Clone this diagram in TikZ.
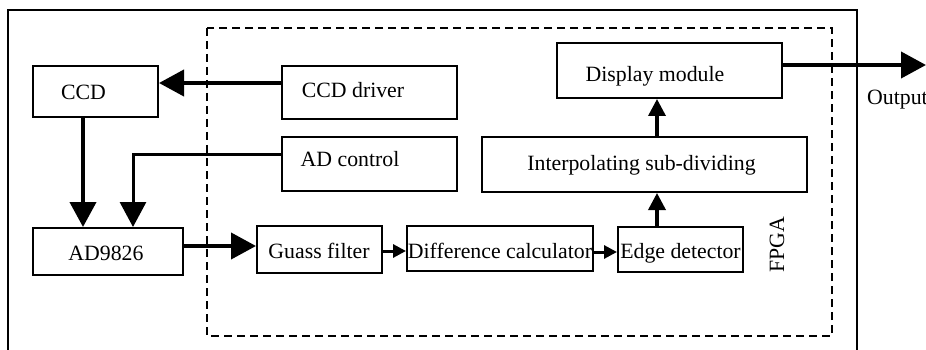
\documentclass[tikz,border=0pt]{standalone}
\usepackage{fontspec}
\setmainfont{Liberation Serif}
\usetikzlibrary{arrows.meta}
\begin{document}
\begin{tikzpicture}[x=1pt,y=-1pt,
  every node/.style={font=\fontsize{21.8}{25}\selectfont},
  box/.style={draw,line width=2pt,inner sep=0pt,fill=white},
  lbl/.style={anchor=base,inner sep=0pt},
  big/.style={line width=4pt,-{Triangle[length=25pt,width=26pt]}},
  med/.style={line width=3.5pt,-{Triangle[length=17pt,width=17pt]}},
  small/.style={line width=3pt,-{Triangle[length=13pt,width=13pt]}},
  frame/.style={line width=2pt},
  fpga/.style={line width=2.2pt,dash pattern=on 8pt off 5pt}]
\useasboundingbox (0,0) rectangle (926,350);
% outer frame and FPGA region
\draw[frame] (7.5,352) -- (7.5,10) -- (857,10) -- (857,352);
\draw[fpga] (207,28) rectangle (832,336);
% boxes
\node[box,minimum width=125pt,minimum height=51pt] (ccd) at (95.5,91.5) {};
\node[box,minimum width=175pt,minimum height=53pt] (drv) at (369.5,92.5) {};
\node[box,minimum width=175pt,minimum height=54pt] (adc) at (369.5,164) {};
\node[box,minimum width=150pt,minimum height=47pt] (ad) at (108,251.5) {};
\node[box,minimum width=125pt,minimum height=47pt] (gauss) at (319.5,249.5) {};
\node[box,minimum width=186pt,minimum height=45pt] (diff) at (500,248.5) {};
\node[box,minimum width=125pt,minimum height=45pt] (edge) at (680.5,249.5) {};
\node[box,minimum width=325pt,minimum height=55pt] (interp) at (644.5,164.5) {};
\node[box,minimum width=225pt,minimum height=55pt] (disp) at (669.5,70.5) {};
% labels
\node[lbl] (tccd) at (83.5,100) {CCD};
\node[lbl] (tdrv) at (353,98) {CCD driver};
\node[lbl] (tadc) at (350,167) {AD control};
\node[lbl] (tad) at (106,260) {AD9826};
\node[lbl] (tgauss) at (319,258) {Guass filter};
\node[lbl] (tdiff) at (500,258) {Difference calculator};
\node[lbl] (tedge) at (680.5,258) {Edge detector};
\node[lbl] (tinterp) at (641.5,171) {Interpolating sub-dividing};
\node[lbl] (tdisp) at (655,82) {Display module};
\node[anchor=base west,inner sep=0pt] (tout) at (867,105) {Output};
\node[rotate=90,inner sep=0pt] (tfpga) at (777,245) {FPGA};
% connectors
\coordinate (out) at (926,65);
\draw[big] ([yshift=9.5pt]drv.west) -- ([yshift=9.5pt]drv.west -| ccd.east);
\draw[big] ([xshift=-12.5pt]ccd.south) -- ([xshift=-12.5pt]ccd.south |- ad.north);
\draw[line width=3pt,-{Triangle[length=25pt,width=26pt]}] ([yshift=10pt]adc.west) -| ([xshift=25pt]ad.north);
\draw[big] ([yshift=5.5pt]ad.east) -- ([yshift=5.5pt]ad.east -| gauss.west);
\draw[small] ([yshift=-1.5pt]gauss.east) -- ([yshift=-1.5pt]gauss.east -| diff.west);
\draw[small] ([yshift=-3.5pt]diff.east) -- ([yshift=-3.5pt]diff.east -| edge.west);
\draw[med] ([xshift=-23.5pt]edge.north) -- ([xshift=-23.5pt]edge.north |- interp.south);
\draw[med] ([xshift=12.5pt]interp.north) -- ([xshift=12.5pt]interp.north |- disp.south);
\draw[big] ([yshift=5.5pt]disp.east) -- (out);
\end{tikzpicture}
\end{document}
